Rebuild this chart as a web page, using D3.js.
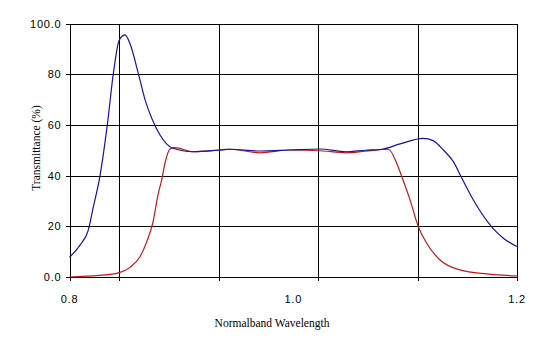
<!DOCTYPE html>
<html>
<head>
    <meta charset="utf-8">
    <style>
        html, body {
            margin: 0;
            background-color: white;
        }
        .grid line {
            stroke: #000;
            stroke-width: 1px;
            shape-rendering: crispEdges;
        }
        .ticklabel {
            font-family: 'Liberation Sans', Arial, sans-serif;
            font-size: 11px;
            letter-spacing: 0.8px;
        }
        .title {
            font-family: 'Liberation Serif', 'Times New Roman', serif;
            font-size: 11.5px;
        }
    </style>
</head>
<body>

    <svg id="chart" width="539" height="346"></svg>

    <script src="https://d3js.org/d3.v7.min.js"></script>

    <script>
        // wavelength samples
        var blueX = [0.800, 0.8094, 0.8168, 0.8213, 0.8266, 0.8338, 0.8392, 0.8445, 0.8496, 0.8541,
                     0.8615, 0.8675, 0.8735, 0.8809, 0.8914, 0.9107, 0.9345, 0.9435, 0.9703, 0.9971,
                     1.0239, 1.0472, 1.0642, 1.0791, 1.0955, 1.1160, 1.1250, 1.1342, 1.1431, 1.1500,
                     1.1610, 1.1774, 1.1878, 1.200];
        var blueY = [7.8, 12.6, 18.5, 27.7, 38.3, 60, 80.3, 93.5, 95.5, 92,
                     80.3, 70, 62.6, 56, 51, 49.4, 50.1, 50.4, 49.7, 50.1,
                     50.5, 49.4, 50, 50.4, 52.5, 54.7, 53.8, 50.1, 45.5, 39.6,
                     30.4, 19.8, 15.3, 12];

        var redX = [0.800, 0.8362, 0.8445, 0.8541, 0.8630, 0.8696, 0.8744, 0.8794, 0.8824, 0.8854,
                    0.8898, 0.8943, 0.9107, 0.9345, 0.9435, 0.9703, 0.9971, 1.0239, 1.0472, 1.0642,
                    1.0850, 1.0925, 1.0970, 1.1044, 1.1118, 1.1193, 1.1312, 1.1491, 1.1730, 1.200];
        var redY = [0, 1, 1.7, 3.8, 8, 14.6, 21.2, 33, 38.3, 45,
                    50.5, 51, 49.4, 50.1, 50.4, 49, 50.1, 49.8, 49, 49.6,
                    50.4, 44.9, 39.6, 30.4, 19.8, 13.3, 6.7, 2.8, 1.2, 0.4];

        var xGrid = [0.8445, 0.9339, 1.0224, 1.1118];
        var xTickLabels = ["0.8", "1.0", "1.2"];
        var yTicks = [0, 20, 40, 60, 80, 100];
        var yTickLabels = ["0.0", "20", "40", "60", "80", "100.0"];

        var svg = d3.select("#chart");

        var x = d3.scaleLinear().domain([0.8, 1.2]).range([69.5, 517]);
        var y = d3.scaleLinear().domain([0, 100]).range([277, 23.5]);

        var grid = svg.append("g").attr("class", "grid");

        // horizontal gridlines + left tick marks
        grid.selectAll("line.h")
            .data(yTicks)
            .enter().append("line")
            .attr("class", "h")
            .attr("x1", x(0.8) - 4)
            .attr("x2", x(1.2))
            .attr("y1", function(d) { return Math.round(y(d)) + 0.5; })
            .attr("y2", function(d) { return Math.round(y(d)) + 0.5; });

        // vertical gridlines, they run down past the axis as tick marks
        grid.selectAll("line.v")
            .data([0.8].concat(xGrid).concat([1.2]))
            .enter().append("line")
            .attr("class", "v")
            .attr("x1", function(d) { return Math.round(x(d)) + 0.5; })
            .attr("x2", function(d) { return Math.round(x(d)) + 0.5; })
            .attr("y1", y(100))
            .attr("y2", y(0) + 4);

        svg.selectAll("text.ylab")
            .data(yTicks)
            .enter().append("text")
            .attr("class", "ticklabel ylab")
            .attr("x", x(0.8) - 8)
            .attr("y", function(d) { return y(d) + 4; })
            .attr("text-anchor", "end")
            .text(function(d, i) { return yTickLabels[i]; });

        svg.selectAll("text.xlab")
            .data(xTickLabels)
            .enter().append("text")
            .attr("class", "ticklabel xlab")
            .attr("x", function(d) { return x(+d); })
            .attr("y", 303)
            .attr("text-anchor", "middle")
            .text(function(d) { return d; });

        svg.append("text")
            .attr("class", "title")
            .attr("x", 272)
            .attr("y", 327)
            .attr("text-anchor", "middle")
            .text("Normalband Wavelength");

        svg.append("text")
            .attr("class", "title")
            .attr("transform", "translate(40,148) rotate(-90)")
            .attr("text-anchor", "middle")
            .text("Transmittance (%)");

        var line = d3.line()
            .x(function(d) { return x(d[0]); })
            .y(function(d) { return y(d[1]); })
            .curve(d3.curveMonotoneX);

        var blue = d3.zip(blueX, blueY),
            red = d3.zip(redX, redY);

        svg.append("path")
            .datum(red)
            .attr("fill", "none")
            .attr("stroke", "#c41818")
            .attr("stroke-width", 1.2)
            .attr("d", line);

        svg.append("path")
            .datum(blue)
            .attr("fill", "none")
            .attr("stroke", "#1414a4")
            .attr("stroke-width", 1.2)
            .attr("d", line);
    </script>
</body>
</html>
